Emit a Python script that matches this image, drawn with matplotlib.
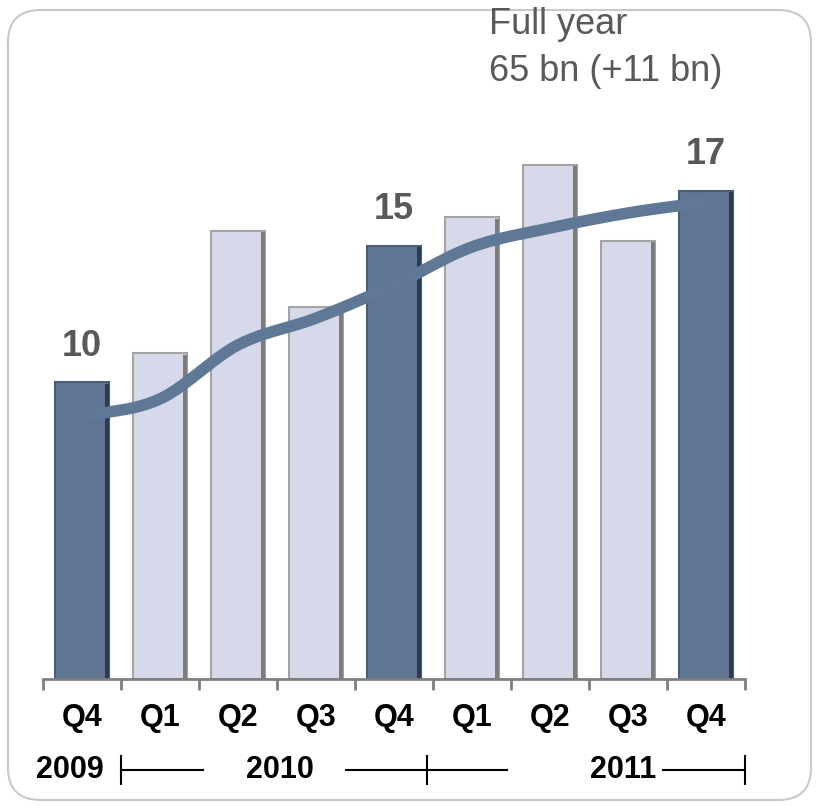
import numpy as np
import matplotlib.pyplot as plt
from matplotlib.patches import FancyBboxPatch

plt.rcParams['font.family'] = ['Liberation Sans', 'DejaVu Sans']

quarters = ["Q4", "Q1", "Q2", "Q3", "Q4", "Q1", "Q2", "Q3", "Q4"]
years = ["2009", "2010", "2011"]
revenue = [10.0, 11.07, 15.53, 12.76, 15.0, 16.03, 17.94, 15.18, 17.0]
trend = [8.74, 9.40, 11.37, 12.35, 13.56, 14.95, 15.64, 16.19, 16.59]
highlight = [0, 4, 8]
highlight_labels = ["10", "15", "17"]

dark = "#5f7594"
light = "#d5d9ea"
line_col = "#5e7895"
floor = -0.83


def catmull_rom(xs, ys, n=24):
    # smooth curve through the points for the trend line
    px = np.concatenate([[2 * xs[0] - xs[1]], xs, [2 * xs[-1] - xs[-2]]])
    py = np.concatenate([[2 * ys[0] - ys[1]], ys, [2 * ys[-1] - ys[-2]]])
    outx, outy = [], []
    for i in range(1, len(px) - 2):
        t = np.linspace(0, 1, n, endpoint=False)
        for p, out in ((px, outx), (py, outy)):
            p0, p1, p2, p3 = p[i - 1], p[i], p[i + 1], p[i + 2]
            out.extend(0.5 * (2 * p1 + (-p0 + p2) * t
                              + (2 * p0 - 5 * p1 + 4 * p2 - p3) * t ** 2
                              + (-p0 + 3 * p1 - 3 * p2 + p3) * t ** 3))
    outx.append(xs[-1])
    outy.append(ys[-1])
    return np.array(outx), np.array(outy)


fig = plt.figure(figsize=(8.19, 8.06), dpi=100)
fig.patches.append(FancyBboxPatch((8 / 819, 6 / 806), 803 / 819, 790 / 806,
                                  boxstyle="round,pad=0,rounding_size=0.04",
                                  transform=fig.transFigure, fc="none",
                                  ec="#c9c9c9", lw=1.5, zorder=0))

ax = fig.add_axes([43 / 819, 127 / 806, 702 / 819, 639 / 806])
ax.set_facecolor("none")
x = np.arange(len(quarters))
w = 0.69
vals = np.array(revenue)
colors = [dark if i in highlight else light for i in x]
edges = ["#4a5d78" if i in highlight else "#a3a3a3" for i in x]
shadows = ["#2f3c4f" if i in highlight else "#7c7c7c" for i in x]

ax.bar(x, vals - floor, bottom=floor, width=w, color=colors,
       edgecolor=edges, linewidth=1.5, zorder=2)
# darker strip on the right side of each bar
ax.bar(x + w / 2 - 0.025, vals - floor - 0.05, bottom=floor, width=0.05,
       color=shadows, linewidth=0, zorder=2)

sx, sy = catmull_rom(x.astype(float), np.array(trend))
ax.plot(sx, sy, color=line_col, lw=8.3, solid_capstyle="butt", zorder=3)

for i, lab in zip(highlight, highlight_labels):
    ax.annotate(lab, (x[i], revenue[i]), xytext=(0, 26), textcoords="offset points",
                ha="center", va="center", fontsize=26, fontweight="bold",
                color="#595959")

ax.set_xlim(-0.5, len(quarters) - 0.5)
ax.set_ylim(floor, floor + 639 / 27.38)
for s in ["top", "left", "right"]:
    ax.spines[s].set_visible(False)
ax.spines["bottom"].set_color("#7f7f7f")
ax.spines["bottom"].set_linewidth(2)
ax.set_yticks([])
ax.set_xticks(x)
ax.set_xticklabels(quarters, fontsize=22, fontweight="bold")
ax.set_xticks(np.arange(-0.5, len(quarters)), minor=True)
ax.tick_params(axis="x", which="major", length=0, pad=17)
ax.tick_params(axis="x", which="minor", length=8, width=2, color="#7f7f7f",
               direction="out")

# year row under the quarter labels
tr = ax.get_xaxis_transform()
yrow = -91 / 639
hh = 0.022
for xp, lab in zip([-0.15, 2.54, 6.94], years):
    ax.text(xp, yrow, lab, transform=tr, ha="center", va="center",
            fontsize=22, fontweight="bold", color="black")
for x0, x1 in [(0.5, 1.55), (3.38, 5.45), (7.45, 8.5)]:
    ax.plot([x0, x1], [yrow, yrow], transform=tr, color="black", lw=1.5,
            clip_on=False)
for xv in [0.5, 4.42, 8.5]:
    ax.plot([xv, xv], [yrow - hh, yrow + hh], transform=tr, color="black",
            lw=1.5, clip_on=False)

fig.text(489 / 819, 1 - 34 / 806, "Full year", fontsize=26, color="#595959",
         va="baseline", ha="left")
fig.text(489 / 819, 1 - 81 / 806, "65 bn (+11 bn)", fontsize=26,
         color="#595959", va="baseline", ha="left")

fig.savefig("out.png", dpi=100)
